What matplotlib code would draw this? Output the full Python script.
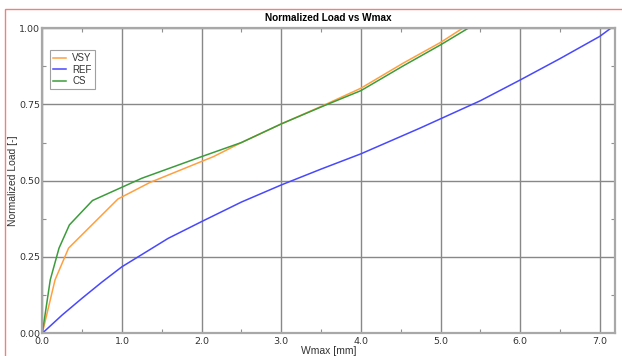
"""Normalized load vs Wmax chart."""

import matplotlib
import matplotlib.pyplot as plt
from matplotlib.patches import Rectangle
from matplotlib.ticker import MultipleLocator

matplotlib.use('Agg')

# Data
vsy_w = [0.0, 0.16, 0.33, 0.95, 1.35, 2.15, 2.5, 3.0, 3.55, 4.0, 4.53, 5.0, 5.28]
vsy_load = [0.0, 0.175, 0.279, 0.44, 0.494, 0.579, 0.625, 0.686, 0.749, 0.803, 0.885, 0.953, 1.0]

ref_w = [0.0, 0.25, 0.5, 0.75, 1.0, 1.25, 1.58, 2.0, 2.5, 3.0, 3.5, 4.0, 4.74, 5.5, 6.0, 6.5,
         7.0, 7.14]
ref_load = [0.0, 0.06, 0.115, 0.168, 0.218, 0.258, 0.311, 0.366, 0.43, 0.486, 0.538, 0.588,
            0.672, 0.762, 0.83, 0.90, 0.973, 1.0]

cs_w = [0.0, 0.1, 0.21, 0.34, 0.63, 1.25, 1.98, 2.5, 3.0, 3.55, 4.0, 4.53, 5.0, 5.35]
cs_load = [0.0, 0.175, 0.279, 0.355, 0.435, 0.508, 0.577, 0.625, 0.686, 0.747, 0.795, 0.876,
           0.945, 1.0]

x_ticks = [0.0, 1.0, 2.0, 3.0, 4.0, 5.0, 6.0, 7.0]
y_ticks = [0.0, 0.25, 0.5, 0.75, 1.0]

plt.rcParams['font.family'] = ['DejaVu Sans']
label_font = ['Liberation Sans', 'DejaVu Sans']

fig = plt.figure(figsize=(6.22, 3.56), dpi=100)
ax = fig.add_axes([0.068, 0.0638, 0.9207, 0.8573])

# thin pink frame around the figure (only top and left visible in the screenshot)
fig.patches.append(Rectangle((4.5 / 622, -0.1), 1.2, (347.5 / 356) + 0.1,
                             transform=fig.transFigure, fill=False,
                             edgecolor='#f08080', linewidth=1.0))

ax.plot(vsy_w, vsy_load, color='#ffa040', lw=1.1, label='VSY')
ax.plot(ref_w, ref_load, color='#4848ff', lw=1.1, label='REF')
ax.plot(cs_w, cs_load, color='#3c9c3c', lw=1.1, label='CS')

ax.set_xlim(0, 7.19)
ax.set_ylim(0, 1.0)
ax.set_xticks(x_ticks)
ax.set_xticklabels([f'{v:.1f}' for v in x_ticks])
ax.set_yticks(y_ticks)
ax.set_yticklabels([f'{v:.2f}' for v in y_ticks])
ax.xaxis.set_minor_locator(MultipleLocator(0.5))
ax.yaxis.set_minor_locator(MultipleLocator(0.125))
ax.tick_params(which='both', direction='in', top=True, right=True,
               colors='#909090', labelcolor='#333333', labelsize=6.8, pad=1.5)
ax.tick_params(axis='x', which='major', pad=2.5)
ax.tick_params(which='major', length=0)
ax.tick_params(which='minor', length=3, width=0.8)
ax.grid(which='major', color='#888888', lw=1.0)
for spine in ax.spines.values():
    spine.set_color('#a8a8a8')
    spine.set_linewidth(1.6)

ax.set_title('Normalized Load vs Wmax', fontsize=7.2, fontweight='bold', pad=5,
             family=label_font)
ax.set_xlabel('Wmax [mm]', fontsize=7.5, color='#333333', labelpad=0, family=label_font)
ax.set_ylabel('Normalized Load [-]', fontsize=7.5, color='#333333', labelpad=1,
              family=label_font)

leg = ax.legend(loc='upper left', bbox_to_anchor=(0.013, 0.927), borderaxespad=0,
                prop={'family': label_font, 'size': 7}, fancybox=False, framealpha=1,
                edgecolor='#a0a0a0', handlelength=1.4, handletextpad=0.6,
                borderpad=0.3, labelspacing=0.15)
leg.get_frame().set_linewidth(0.8)
for text in leg.get_texts():
    text.set_color('#333333')

plt.savefig('out.png', dpi=100)
plt.close(fig)
